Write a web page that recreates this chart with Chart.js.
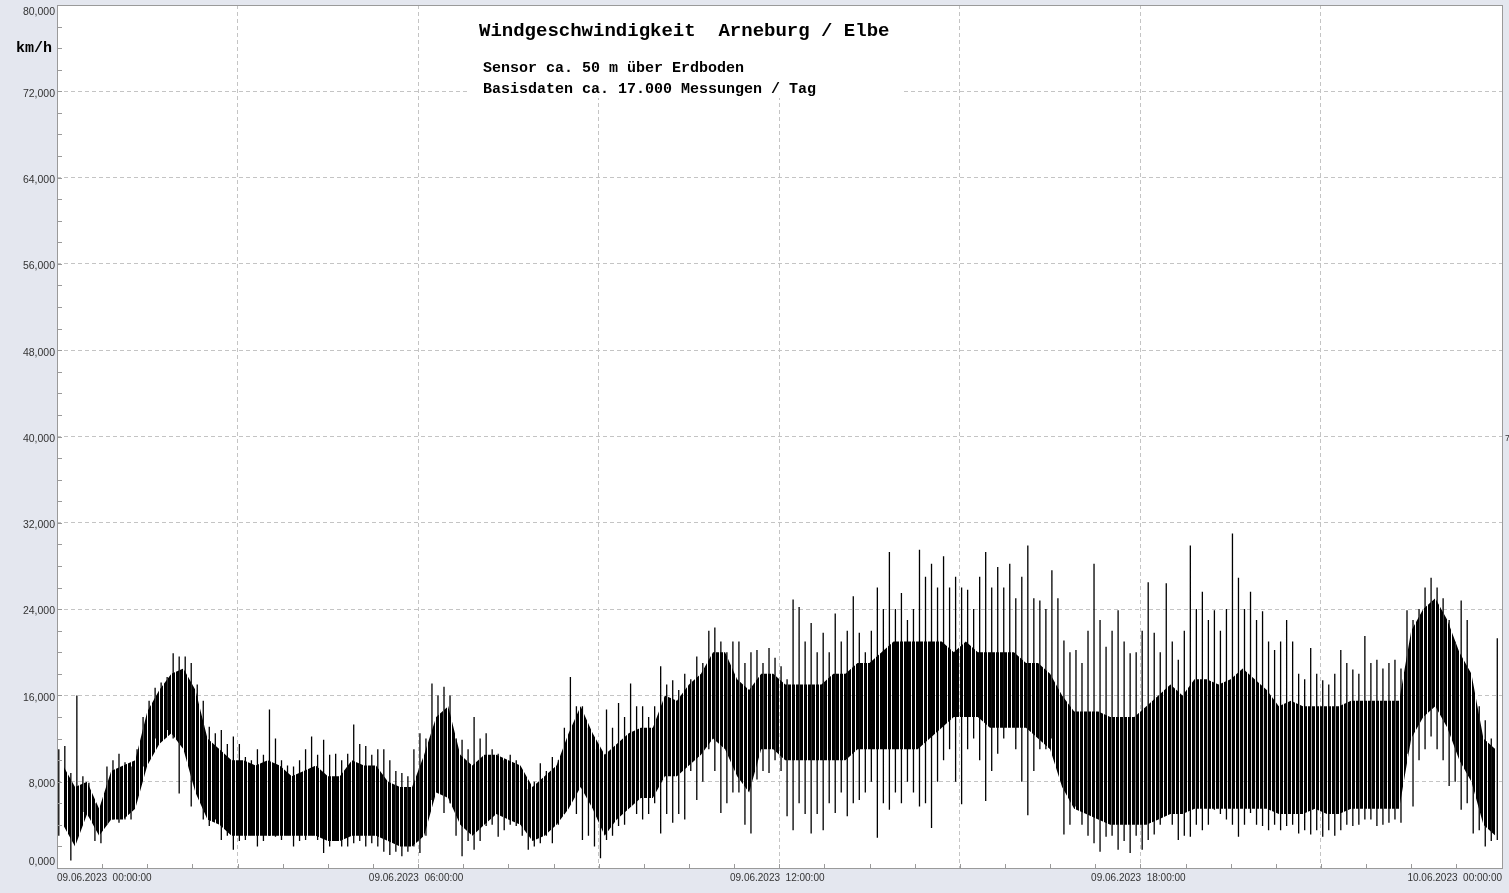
<!DOCTYPE html>
<html>
<head>
<meta charset="utf-8">
<script src="https://cdn.jsdelivr.net/npm/chart.js@4.4.1/dist/chart.umd.min.js"></script>
<style>
  html, body { margin: 0; padding: 0; background: #e4e7ef; overflow: hidden; }
  canvas { display: block; }
</style>
</head>
<body>
<canvas id="windChart" width="1509" height="893"></canvas>
<script>
const ctx = document.getElementById('windChart').getContext('2d');

// Windgeschwindigkeit km/h, 09.06.2023 00:00 -> 10.06.2023 00:00
// spike highs / lows, one column every 6 minutes
const hiVals = [
  11, 11.3, 8.8, 16, 8.5, 7.9, 6, 5.1, 9.4, 10,
  10.6, 9.8, 9.4, 11, 14, 15.5, 16.7, 17.2, 17.7, 19.9,
  19.6, 19.6, 19, 17, 15.5, 13.1, 12.5, 12.8, 11.5, 12.2,
  11.5, 10.3, 10, 11, 10.5, 14.7, 12, 10, 9.5, 9.4,
  10, 11, 12.2, 10.5, 11.9, 10.5, 10.6, 10, 10.6, 13.3,
  11.5, 11.3, 10.5, 11, 11, 10, 9, 8.8, 8.5, 11,
  12.5, 12, 17.1, 16, 16.8, 16, 12, 11.9, 11, 14,
  12, 12.5, 11, 10.6, 10, 10.5, 10, 8.5, 7.3, 8,
  9.7, 9, 10.3, 10, 13, 17.7, 15, 15, 13, 11,
  11, 14.7, 13, 15.3, 14, 17.1, 15, 15, 14, 15,
  18.7, 17, 17.4, 16.5, 18, 17.5, 19.6, 19, 22, 22.3,
  21, 20, 21, 21, 19, 20, 20.2, 19, 20.4, 19.5,
  18.7, 17.5, 24.9, 24.2, 21, 22.7, 20, 21.8, 20, 23.6,
  21, 22, 25.2, 21.8, 20, 22, 26, 24, 29.3, 24,
  25.5, 23, 24, 29.5, 27, 28.2, 26, 28.9, 26, 27,
  26, 25.8, 24, 27, 29.3, 26, 27.9, 26, 28.2, 25,
  27, 29.9, 25, 24.8, 24, 27.6, 25, 21.1, 20, 20.2,
  19, 22, 28.2, 23, 20.5, 22, 23.9, 21, 19.9, 20,
  22, 26.5, 21.8, 20, 26.4, 21, 19.3, 22, 29.9, 24,
  25.6, 23, 23.9, 22, 24, 31, 26.9, 24, 25.6, 23,
  23.8, 21, 20.2, 21, 23, 21, 18, 17.5, 20.4, 18,
  17.4, 17, 18, 20.2, 19, 18.4, 18, 21.5, 19, 19.3,
  18.5, 19, 19.3, 18.5, 23.9, 23, 24, 26, 26.9, 26,
  25, 23, 21, 24.8, 23, 16.2, 15, 13.7, 12, 21.3
];
const loVals = [
  3, 4.5, 0.7, 4, 5.2, 4.8, 2.5, 2.3, 4, 4.5,
  4.2, 4.5, 4.5, 6.8, 9.4, 11, 12, 13, 12.8, 12,
  6.9, 11.3, 5.7, 7, 4.5, 3.9, 4.5, 2.6, 3, 1.7,
  2.5, 2.6, 3, 2, 2.5, 3, 2.9, 2.6, 3, 2,
  2.5, 2.6, 3, 2.6, 1.4, 2, 2.5, 2, 2, 2.3,
  2.5, 2, 2.3, 2, 1.5, 1.2, 1.5, 1.1, 1.5, 2,
  1.4, 3, 6.3, 7, 5.1, 6, 3, 1.1, 2.5, 1.7,
  2.5, 3.9, 4, 2.9, 3.5, 4, 3.9, 3, 1.7, 2,
  2.3, 3, 2.3, 4, 5, 7.9, 5, 2.6, 3, 2,
  0.9, 2.6, 3, 3.9, 4, 5.7, 5, 4.5, 5, 6,
  3.2, 5, 4.2, 5, 4.5, 9, 6.3, 8, 11, 9,
  5.1, 6, 7, 7, 4, 3.2, 8.2, 9, 8.8, 10,
  9, 4.8, 3.5, 6, 5, 3.2, 5, 3.5, 6, 5.1,
  7, 4.8, 6, 6.3, 7, 8, 2.8, 6, 5.4, 7,
  6, 8, 7, 5.7, 6, 3.7, 8, 10, 11, 8,
  5.9, 11, 12, 10, 6.2, 9, 10.6, 12, 13.7, 11,
  8, 4.9, 9, 11, 11, 12, 11, 3.1, 4, 5.7,
  4, 3, 2.3, 1.5, 2.9, 3, 1.7, 2.5, 1.4, 3,
  1.7, 2.6, 3.1, 4, 6.9, 4, 2.6, 3, 2.9, 4,
  3.5, 4, 5.4, 5, 4.5, 4, 2.9, 4, 5.1, 4,
  3.9, 3.5, 4, 3.5, 3.9, 4, 3.2, 3.5, 3.1, 3.5,
  2.9, 3.5, 3, 3.5, 4, 3.9, 4, 4.5, 4.5, 3.9,
  4, 4.2, 4.5, 4.2, 10.6, 5.7, 10, 11, 12.2, 11,
  10, 7.6, 8, 5.4, 6, 3.2, 3.5, 2, 2.5, 2.6
];

// dense core of the trace, one column every 12 minutes
const coreLo = [
  4, 2, 5, 3, 4.5, 4.5, 5.5, 9.5, 11.5, 12.5,
  11, 7, 4.5, 4, 3, 3, 3, 3, 3, 3,
  3, 3, 2.5, 2.5, 3, 3, 3, 2.5, 2, 2,
  3, 7, 6.5, 4, 3, 4, 5, 4.5, 4, 2.5,
  3, 4, 5.5, 7.5, 5.5, 3, 4.5, 5.5, 6.5, 6.5,
  8.5, 8.5, 9.5, 10.5, 12, 11, 8.5, 7, 11, 11,
  10, 10, 10, 10, 10, 10, 11, 11, 11, 11,
  11, 11, 12, 13, 14, 14, 14, 13, 13, 13,
  13, 12, 11, 7.5, 5.5, 5, 4.5, 4, 4, 4,
  4, 4.5, 5, 5, 5.5, 5.5, 5.5, 5.5, 5.5, 5.5,
  5.5, 5, 5, 5, 5.5, 5, 5, 5.5, 5.5, 5.5,
  5.5, 5.5, 12, 14, 15, 13, 10, 8, 4, 3
];
const coreHi = [
  9.5, 7.5, 8, 5.5, 9, 9.5, 10, 14.5, 16.5, 18,
  18.5, 16.5, 12, 11, 10, 10, 9.5, 10, 9.5, 8.5,
  9, 9.5, 8.5, 8.5, 10, 9.5, 9.5, 8, 7.5, 7.5,
  10.5, 14, 15, 10.5, 9.5, 10.5, 10.5, 10, 9.5, 7.5,
  8.5, 9.5, 12.5, 15, 12.5, 10.5, 11.5, 12.5, 13, 13,
  16, 15.5, 17, 18, 20, 20, 17.5, 16.5, 18, 18,
  17, 17, 17, 17, 18, 18, 19, 19, 20, 21,
  21, 21, 21, 21, 20, 21, 20, 20, 20, 20,
  19, 19, 18, 16, 14.5, 14.5, 14.5, 14, 14, 14,
  15, 16, 17, 16, 17.5, 17.5, 17, 17.5, 18.5, 17.5,
  16.5, 15, 15.5, 15, 15, 15, 15, 15.5, 15.5, 15.5,
  15.5, 15.5, 22, 24, 25, 23, 20, 18, 12, 11
];

// axis labels
const yTickValues = [0, 8, 16, 24, 32, 40, 48, 56, 64, 72, 80];
const xTickHours = [0, 6, 12, 18, 24];
const xTickLabels = ['09.06.2023  00:00:00', '09.06.2023  06:00:00', '09.06.2023  12:00:00',
  '09.06.2023  18:00:00', '10.06.2023  00:00:00'];

const titleText = 'Windgeschwindigkeit  Arneburg / Elbe';
const subLines = ['Sensor ca. 50 m über Erdboden', 'Basisdaten ca. 17.000 Messungen / Tag'];
const unitText = 'km/h';

// each 6 minute column is one vertical stroke from lo to hi
const spikes = [];
hiVals.forEach((v, i) => {
  const t = i * 0.1 + 0.03;
  spikes.push({ x: t, y: v });
  spikes.push({ x: t, y: loVals[i] });
  spikes.push({ x: t, y: null });
});
const coreTop = coreHi.map((v, j) => ({ x: j * 0.2 + 0.1, y: v }));
const coreBottom = coreLo.map((v, j) => ({ x: j * 0.2 + 0.1, y: v }));

// fine vertical hatch so the dense core reads as many strokes
const hatch = document.createElement('canvas');
hatch.width = 4; hatch.height = 4;
const hctx = hatch.getContext('2d');
hctx.fillStyle = '#000000';
hctx.fillRect(0, 0, 3, 4);
const hatchFill = ctx.createPattern(hatch, 'repeat');

const isMult = (v, m) => Math.abs(v / m - Math.round(v / m)) < 1e-6;

const frame = {
  id: 'frame',
  beforeDraw(chart) {
    const a = chart.chartArea, c = chart.ctx;
    c.save();
    c.fillStyle = '#ffffff';
    c.fillRect(a.left, a.top, a.right - a.left, a.bottom - a.top);
    c.restore();
  },
  afterDraw(chart) {
    const a = chart.chartArea, c = chart.ctx;
    const xs = chart.scales.x, ys = chart.scales.y;
    c.save();

    // white box behind the title
    c.fillStyle = '#ffffff';
    c.fillRect(470, a.top + 1, 432, 92);

    // border
    c.strokeStyle = '#9a9a9a';
    c.lineWidth = 1;
    c.strokeRect(a.left + 0.5, a.top + 0.5, a.right - a.left - 1, a.bottom - a.top);

    // inner ticks
    c.beginPath();
    for (let v = 2; v < 80; v += 2) {
      const y = Math.round(ys.getPixelForValue(v)) + 0.5;
      c.moveTo(a.left, y); c.lineTo(a.left + 5, y);
    }
    for (let h = 0.75; h < 24; h += 0.75) {
      const x = Math.round(xs.getPixelForValue(h)) + 0.5;
      c.moveTo(x, a.bottom); c.lineTo(x, a.bottom - 4);
    }
    c.stroke();

    // y labels
    c.fillStyle = '#333333';
    c.font = '10.5px "Liberation Sans", Arial, sans-serif';
    c.textAlign = 'right';
    c.textBaseline = 'middle';
    yTickValues.forEach(v => {
      let y = ys.getPixelForValue(v) + 2.5;
      if (v === 80) y = 12.5;
      if (v === 0) y = 862;
      c.fillText(v.toFixed(3).replace('.', ','), 55, y);
    });

    // x labels
    c.font = '10px "Liberation Sans", Arial, sans-serif';
    const last = xTickHours.length - 1;
    xTickHours.forEach((h, i) => {
      const x = xs.getPixelForValue(h);
      c.textAlign = i === 0 ? 'left' : (i === last ? 'right' : 'center');
      c.fillText(xTickLabels[i], i === 0 ? a.left : (i === last ? a.right - 1 : x - 2), 878.5);
    });

    // title / notes
    c.fillStyle = '#000000';
    c.textAlign = 'left';
    c.textBaseline = 'alphabetic';
    c.font = 'bold 19px "Liberation Mono", "Courier New", monospace';
    c.fillText(titleText, 479, 36);
    c.font = 'bold 15px "Liberation Mono", "Courier New", monospace';
    c.fillText(subLines[0], 483, 72);
    c.fillText(subLines[1], 483, 93);
    c.fillText(unitText, 16, 52);

    c.fillStyle = '#333333';
    c.font = '9px "Liberation Sans", Arial, sans-serif';
    c.fillText('7', 1505, 441);
    c.restore();
  }
};

new Chart(ctx, {
  type: 'line',
  data: {
    datasets: [{
      data: coreTop,
      borderWidth: 0,
      backgroundColor: hatchFill,
      pointRadius: 0,
      fill: '+1'
    }, {
      data: coreBottom,
      borderWidth: 0,
      pointRadius: 0,
      fill: false
    }, {
      data: spikes,
      borderColor: '#000000',
      borderWidth: 1.3,
      pointRadius: 0,
      spanGaps: false,
      fill: false
    }]
  },
  options: {
    responsive: false,
    animation: false,
    events: [],
    layout: { padding: { left: 57, top: 5, right: 6, bottom: 25 } },
    plugins: {
      legend: { display: false },
      tooltip: { enabled: false }
    },
    scales: {
      x: {
        type: 'linear',
        min: 0,
        max: 24.025,
        afterFit: s => { s.height = 0; },
        border: { display: false, dash: [4, 3] },
        ticks: { display: false, stepSize: 3 },
        grid: {
          drawTicks: false,
          color: c => (isMult(c.tick.value, 3) && c.tick.value > 0 && c.tick.value < 24) ? '#c4c4c4' : 'rgba(0,0,0,0)'
        }
      },
      y: {
        min: 0,
        max: 80,
        afterFit: s => { s.width = 0; },
        border: { display: false, dash: [4, 3] },
        ticks: { display: false, stepSize: 8 },
        grid: {
          drawTicks: false,
          color: c => (c.tick.value > 0 && c.tick.value < 80) ? '#c4c4c4' : 'rgba(0,0,0,0)'
        }
      }
    }
  },
  plugins: [frame]
});
</script>
</body>
</html>
